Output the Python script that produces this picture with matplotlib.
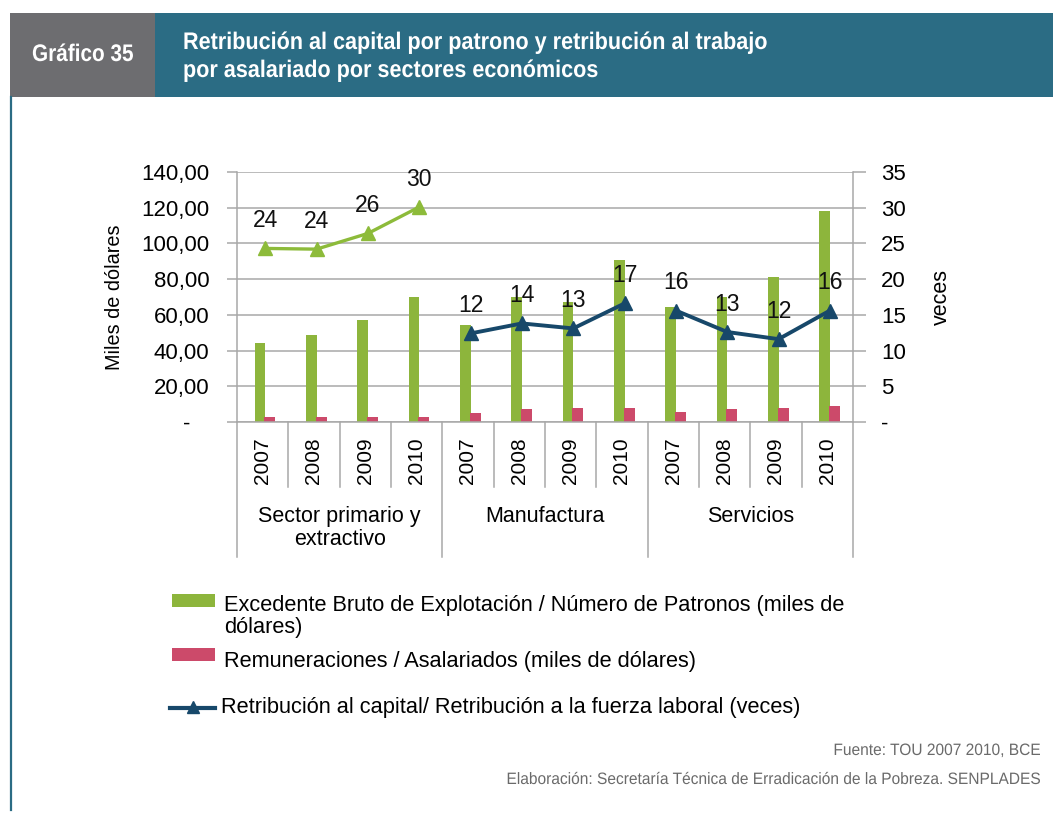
import matplotlib
matplotlib.use("Agg")
import matplotlib.pyplot as plt
from matplotlib.patches import Rectangle, PathPatch
from matplotlib.lines import Line2D
from matplotlib.ticker import FuncFormatter
from matplotlib.textpath import TextPath
from matplotlib.font_manager import FontProperties
import matplotlib.transforms as mtransforms

# ---- data -----------------------------------------------------------------
sectors = ["Sector primario y\nextractivo", "Manufactura", "Servicios"]
years = ["2007", "2008", "2009", "2010"]
excedente = [44.4, 48.7, 57.0, 70.0, 54.3, 70.0, 67.4, 91.0, 64.6, 70.0, 81.0, 118.3]
remuneraciones = [2.6, 2.6, 2.6, 2.6, 4.9, 7.1, 7.8, 7.8, 5.8, 7.1, 7.8, 9.0]
veces = [24.3, 24.2, 26.4, 30.1, 12.4, 13.8, 13.1, 16.6, 15.6, 12.6, 11.6, 15.6]
left_ticks = [0, 20, 40, 60, 80, 100, 120, 140]
right_ticks = [0, 5, 10, 15, 20, 25, 30, 35]

GREEN = "#8db53c"
PINK = "#cc4a6a"
NAVY = "#17486a"
GREEN_LINE = "#8dbb3a"
GRID = "#a8a8a8"
TEAL = "#2b6c84"
GREY = "#6d6d70"

plt.rcParams["font.family"] = ["Liberation Sans", "DejaVu Sans"]

W, H = 1053, 815
fig = plt.figure(figsize=(W / 100, H / 100), dpi=100)


def fx(x):
    return x / W


def fy(y):
    return 1 - y / H


def narrow_text(x, y, s, size_px, xscale, color, weight="normal", ha="left"):
    """Draw horizontally compressed text; x, y are pixel coords (y from top, baseline)."""
    fp = FontProperties(family="Liberation Sans", weight=weight)
    path = TextPath((0, 0), s, size=size_px, prop=fp)
    ext = path.get_extents()
    width = ext.x1 * xscale
    x0 = x - width if ha == "right" else x
    tr = mtransforms.Affine2D().scale(xscale, 1).translate(x0, H - y)
    fig.add_artist(PathPatch(path, transform=tr, facecolor=color, edgecolor="none", lw=0))


# ---- header band ----------------------------------------------------------
fig.add_artist(Rectangle((fx(10), fy(97)), fx(155) - fx(10), fy(13) - fy(97),
                         transform=fig.transFigure, color=GREY, lw=0))
fig.add_artist(Rectangle((fx(155), fy(97)), 1 - fx(155), fy(13) - fy(97),
                         transform=fig.transFigure, color=TEAL, lw=0))
fig.add_artist(Line2D([fx(11), fx(11)], [fy(97), fy(810)], transform=fig.transFigure,
                      color=TEAL, lw=1.6))
narrow_text(32, 61, "Gráfico 35", 24, 0.865, "white", weight="bold")
narrow_text(183, 49, "Retribución al capital por patrono y retribución al trabajo",
            24, 0.9, "white", weight="bold")
narrow_text(183, 77, "por asalariado por sectores económicos", 24, 0.9, "white",
            weight="bold")

# ---- main axes --------------------------------------------------------------
ax = fig.add_axes([fx(237), fy(422), fx(853) - fx(237), fy(172) - fy(422)])
ax2 = ax.twinx()

n = len(excedente)
xs = list(range(n))
bw = 0.21
ax.bar([x - 0.05 for x in xs], excedente, width=bw, color=GREEN, zorder=2)
ax.bar([x + 0.14 for x in xs], remuneraciones, width=bw, color=PINK, zorder=2)

ax.set_xlim(-0.5, n - 0.5)
ax.set_ylim(0, 140)
ax.set_yticks(left_ticks)
ax.yaxis.set_major_formatter(FuncFormatter(
    lambda v, p: "-   " if v == 0 else f"{v:,.2f}".replace(".", ",")))
ax.set_xticks([])
ax.set_axisbelow(True)
ax.grid(axis="y", color=GRID, lw=1.1)
ax.tick_params(axis="y", length=7, width=1.1, color=GRID, pad=13, labelsize=16)
ax.spines["top"].set_visible(False)
for side in ["left", "bottom", "right"]:
    ax.spines[side].set_color(GRID)
    ax.spines[side].set_linewidth(1.1)
ax.set_ylabel("Miles de dólares", fontsize=14.3, labelpad=12)

ax2.set_ylim(0, 35)
ax2.set_yticks(right_ticks)
ax2.yaxis.set_major_formatter(FuncFormatter(lambda v, p: "-" if v == 0 else f"{v:.0f}"))
ax2.tick_params(axis="y", length=9, width=1.1, color=GRID, pad=11, labelsize=16)
for side in ["top", "left", "bottom", "right"]:
    ax2.spines[side].set_visible(False)
ax2.set_ylabel("veces", fontsize=15.5, rotation=90, labelpad=18)
ax2.yaxis.set_label_position("right")

# ratio lines, one segment per sector
groups = [(0, 4, GREEN_LINE, 2.4), (4, 8, NAVY, 2.8), (8, 12, NAVY, 2.8)]
for a, b, col, lw in groups:
    px = [x + 0.05 for x in xs[a:b]]
    ax2.plot(px, veces[a:b], color=col, lw=lw, marker="^", markersize=10,
             markeredgecolor=col, zorder=3)
    for x, v in zip(px, veces[a:b]):
        ax2.annotate(f"{v:.0f}", (x, v), xytext=(0, 20), textcoords="offset points",
                     ha="center", va="center", fontsize=16.5, color="#111111")

# ---- category axis (years + sectors) -----------------------------------------
trans = mtransforms.blended_transform_factory(ax.transData, ax.transAxes)
for i in range(n + 1):
    x = i - 0.5
    bottom = -0.54 if i % 4 == 0 else -0.26
    ax.plot([x, x], [0, bottom], transform=trans, color=GRID, lw=1.1, clip_on=False)
for i in range(n):
    ax.text(i, -0.155, years[i % 4], transform=trans, rotation=90,
            ha="center", va="center", fontsize=15)
for g, name in enumerate(sectors):
    ax.text(g * 4 + 1.5, -0.335, name, transform=trans, ha="center", va="top",
            fontsize=15.5, linespacing=1.15)

# ---- legend ----------------------------------------------------------------------
LEG = 15.7
fig.add_artist(Rectangle((fx(172), fy(607)), fx(215) - fx(172), fy(594) - fy(607),
                         transform=fig.transFigure, color=GREEN, lw=0))
fig.text(fx(224), fy(605), "Excedente Bruto de Explotación / Número de Patronos (miles de",
         fontsize=LEG, ha="left", va="center")
fig.text(fx(224), fy(628), "dólares)", fontsize=LEG, ha="left", va="center")
fig.add_artist(Rectangle((fx(172), fy(661)), fx(215) - fx(172), fy(648) - fy(661),
                         transform=fig.transFigure, color=PINK, lw=0))
fig.text(fx(224), fy(661), "Remuneraciones / Asalariados (miles de dólares)",
         fontsize=LEG, ha="left", va="center")
fig.add_artist(Line2D([fx(170), fx(215)], [fy(708), fy(708)], transform=fig.transFigure,
                      color=NAVY, lw=3))
fig.add_artist(Line2D([fx(193)], [fy(707)], transform=fig.transFigure, color=NAVY,
                      marker="^", markersize=9, lw=0))
fig.text(fx(221), fy(708), "Retribución al capital/ Retribución a la fuerza laboral (veces)",
         fontsize=LEG, ha="left", va="center")

# ---- source notes ------------------------------------------------------------------
narrow_text(1040, 755, "Fuente: TOU 2007 2010, BCE", 16.5, 0.94, "#6a6a6a", ha="right")
narrow_text(1040, 784,
            "Elaboración: Secretaría Técnica de Erradicación de la Pobreza. SENPLADES",
            16.5, 0.94, "#6a6a6a", ha="right")

fig.savefig("out.png", dpi=100)
